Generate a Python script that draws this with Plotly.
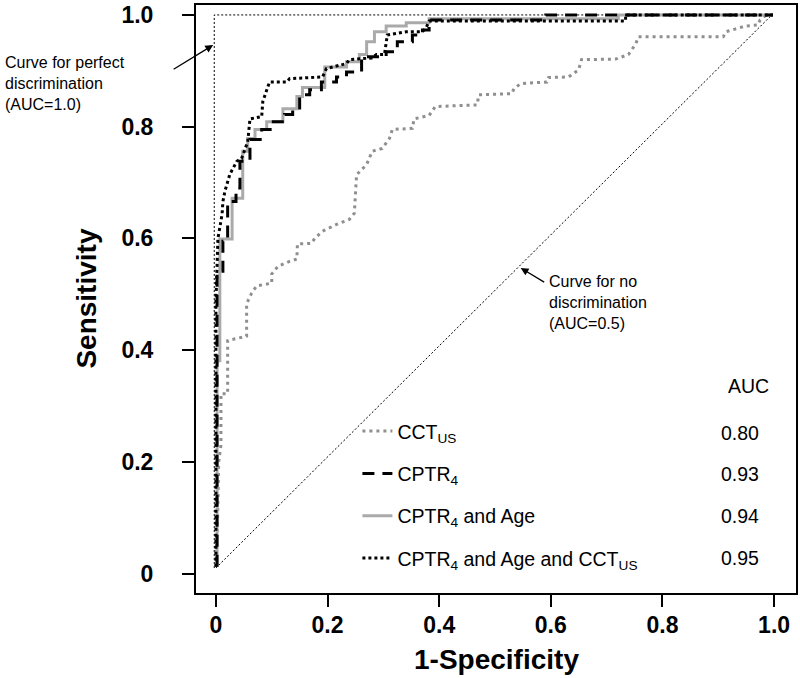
import plotly.graph_objects as go

# ---------------- data ----------------
cct_x = [0.0, 0.003, 0.005, 0.009, 0.009, 0.021, 0.021, 0.055, 0.055, 0.064, 0.073, 0.1, 0.1, 0.111,
         0.132, 0.145, 0.146, 0.171, 0.177, 0.191, 0.216, 0.239, 0.248, 0.252, 0.252, 0.27, 0.28,
         0.298, 0.311, 0.316, 0.352, 0.355, 0.382, 0.393, 0.468, 0.471, 0.53, 0.534, 0.546, 0.593,
         0.596, 0.632, 0.65, 0.655, 0.716, 0.739, 0.752, 0.757, 0.909, 0.914, 0.948, 0.971, 0.975,
         0.986, 0.995]
cct_y = [0.012, 0.1, 0.2, 0.23, 0.322, 0.322, 0.417, 0.425, 0.483, 0.502, 0.515, 0.52, 0.536, 0.55,
         0.559, 0.563, 0.59, 0.591, 0.6, 0.613, 0.625, 0.634, 0.645, 0.702, 0.714, 0.732, 0.756,
         0.761, 0.779, 0.795, 0.797, 0.814, 0.82, 0.836, 0.839, 0.857, 0.859, 0.868, 0.877, 0.88,
         0.888, 0.889, 0.902, 0.92, 0.921, 0.929, 0.948, 0.961, 0.961, 0.97, 0.98, 0.982, 0.991,
         1.0, 1.0]

cptr_x = [0.002, 0.002, 0.0125, 0.0125, 0.021, 0.021, 0.036, 0.036, 0.043, 0.043, 0.061, 0.061,
          0.082, 0.082, 0.1, 0.1, 0.123, 0.123, 0.1375, 0.1375, 0.15, 0.15, 0.168, 0.168, 0.189,
          0.189, 0.216, 0.216, 0.234, 0.234, 0.261, 0.261, 0.305, 0.305, 0.325, 0.325, 0.352, 0.352,
          0.37, 0.37, 0.382, 0.382, 0.591, 0.591, 0.998]
cptr_y = [0.012, 0.541, 0.541, 0.595, 0.595, 0.666, 0.666, 0.69, 0.69, 0.738, 0.738, 0.777, 0.777,
          0.795, 0.795, 0.809, 0.809, 0.822, 0.822, 0.83, 0.83, 0.857, 0.857, 0.866, 0.866, 0.88,
          0.88, 0.889, 0.889, 0.898, 0.898, 0.925, 0.925, 0.934, 0.934, 0.952, 0.952, 0.964, 0.964,
          0.973, 0.973, 0.991, 0.991, 1.0, 1.0]

age_x = [0.002, 0.002, 0.007, 0.007, 0.029, 0.029, 0.048, 0.048, 0.057, 0.057, 0.07, 0.07, 0.091,
         0.091, 0.12, 0.12, 0.145, 0.145, 0.155, 0.155, 0.195, 0.195, 0.234, 0.234, 0.257, 0.257,
         0.27, 0.27, 0.284, 0.284, 0.305, 0.305, 0.341, 0.341, 0.382, 0.382, 0.721, 0.721, 0.998]
age_y = [0.012, 0.381, 0.381, 0.599, 0.599, 0.672, 0.672, 0.756, 0.756, 0.779, 0.779, 0.795, 0.795,
         0.809, 0.809, 0.832, 0.832, 0.854, 0.854, 0.87, 0.87, 0.907, 0.907, 0.916, 0.916, 0.929,
         0.929, 0.952, 0.952, 0.97, 0.97, 0.98, 0.98, 0.986, 0.986, 0.993, 0.993, 1.0, 1.0]

all_x = [0.0, 0.0, 0.0036, 0.007, 0.011, 0.0125, 0.016, 0.025, 0.0375, 0.046, 0.057, 0.061, 0.082,
         0.084, 0.091, 0.096, 0.127, 0.132, 0.191, 0.198, 0.234, 0.239, 0.279, 0.2875, 0.302, 0.307,
         0.341, 0.37, 0.377, 0.382, 0.734, 0.734, 0.998]
all_y = [0.012, 0.488, 0.6, 0.622, 0.643, 0.666, 0.684, 0.715, 0.738, 0.743, 0.773, 0.814, 0.818,
         0.845, 0.866, 0.88, 0.88, 0.886, 0.889, 0.904, 0.913, 0.92, 0.923, 0.929, 0.929, 0.964,
         0.97, 0.97, 0.978, 0.989, 0.989, 1.0, 1.0]

diag_x = [0.0, 0.996]
diag_y = [0.01, 1.0]
perfect_x = [-0.003, -0.003, 0.996]
perfect_y = [0.01, 1.0, 1.0]

series_names = ["CCT<sub>US</sub>", "CPTR<sub>4</sub>", "CPTR<sub>4</sub> and Age",
                "CPTR<sub>4</sub> and Age and CCT<sub>US</sub>"]
auc_values = ["0.80", "0.93", "0.94", "0.95"]
auc_rows_y = [0.2525, 0.179, 0.1026, 0.0277]
tick_vals = [0, 0.2, 0.4, 0.6, 0.8, 1.0]
tick_text = ["0", "0.2", "0.4", "0.6", "0.8", "1.0"]

FONT = "Liberation Sans, Arial, Helvetica, sans-serif"

fig = go.Figure()
fig.add_trace(go.Scatter(x=diag_x, y=diag_y, mode="lines", showlegend=False,
                         line=dict(color="black", width=1, dash="2px,2px")))
fig.add_trace(go.Scatter(x=perfect_x, y=perfect_y, mode="lines", showlegend=False,
                         line=dict(color="black", width=1, dash="2px,2px")))
fig.add_trace(go.Scatter(x=cct_x, y=cct_y, mode="lines", name=series_names[0], legendgroup="a",
                         legendrank=1, line=dict(color="#8f8f8f", width=3, dash="3px,4px")))
fig.add_trace(go.Scatter(x=age_x, y=age_y, mode="lines", name=series_names[2], legendgroup="c",
                         legendrank=3, line=dict(color="#aaaaaa", width=3)))
fig.add_trace(go.Scatter(x=cptr_x, y=cptr_y, mode="lines", name=series_names[1], legendgroup="b",
                         legendrank=2, line=dict(color="black", width=3, dash="12px,8px")))
fig.add_trace(go.Scatter(x=all_x, y=all_y, mode="lines", name=series_names[3], legendgroup="d",
                         legendrank=4, line=dict(color="black", width=3, dash="3px,3px")))

axis_common = dict(
    tickvals=tick_vals, ticktext=tick_text, ticks="outside", ticklen=12, tickwidth=2,
    tickcolor="black", showline=True, linewidth=2, linecolor="black", mirror=True,
    showgrid=False, zeroline=False,
    tickfont=dict(family=FONT, size=23, color="black", weight="bold"),
)
fig.update_xaxes(range=[-0.0357, 1.0393], ticklabelstandoff=-2, **axis_common)
fig.update_yaxes(range=[-0.0348, 1.0178], ticklabelstandoff=24, **axis_common)

annotations = [
    dict(x=0.5, y=-0.1136, xref="paper", yref="paper", text="<b>1-Specificity</b>",
         showarrow=False, font=dict(family=FONT, size=28, color="black"), xanchor="center",
         yanchor="middle"),
    dict(x=-0.184, y=0.5, xref="paper", yref="paper", text="<b>Sensitivity</b>", textangle=-90,
         showarrow=False, font=dict(family=FONT, size=28, color="black"), xanchor="center",
         yanchor="middle"),
    dict(x=-0.3223, y=0.877, xref="paper", yref="y", text="Curve for perfect<br>discrimination<br>(AUC=1.0)",
         showarrow=False, align="left", xanchor="left", yanchor="middle",
         font=dict(family=FONT, size=16, color="black")),
    dict(x=-0.005, y=0.946, xref="x", yref="y", text="", showarrow=True, ax=-41, ay=25,
         arrowhead=2, arrowsize=1.2, arrowwidth=1.3, arrowcolor="black", standoff=0),
    dict(x=0.593, y=0.486, xref="x", yref="y", text="Curve for no<br>discrimination<br>(AUC=0.5)",
         showarrow=False, align="left", xanchor="left", yanchor="middle",
         font=dict(family=FONT, size=16, color="black")),
    dict(x=0.546, y=0.547, xref="x", yref="y", text="", showarrow=True, ax=25, ay=15,
         arrowhead=2, arrowsize=1.2, arrowwidth=1.3, arrowcolor="black", standoff=0),
    dict(x=0.995, y=0.336, xref="x", yref="y", text="AUC", showarrow=False, xanchor="right",
         yanchor="middle", font=dict(family=FONT, size=19.5, color="black")),
]
for v, yy in zip(auc_values, auc_rows_y):
    annotations.append(dict(x=0.977, y=yy, xref="x", yref="y", text=v, showarrow=False,
                            xanchor="right", yanchor="middle",
                            font=dict(family=FONT, size=19.5, color="black")))

fig.update_layout(
    width=800, height=678,
    margin=dict(l=196, r=2, t=3, b=85),
    paper_bgcolor="white", plot_bgcolor="white",
    annotations=annotations,
    showlegend=True,
    legend=dict(x=0.269, y=0.308, xanchor="left", yanchor="top", bgcolor="rgba(0,0,0,0)",
                borderwidth=0, tracegroupgap=14, traceorder="grouped",
                font=dict(family=FONT, size=19.5, color="black")),
)

fig.write_html("out.html", config={"displayModeBar": False},
               post_script="document.body.style.margin='0';document.body.style.padding='0';")
